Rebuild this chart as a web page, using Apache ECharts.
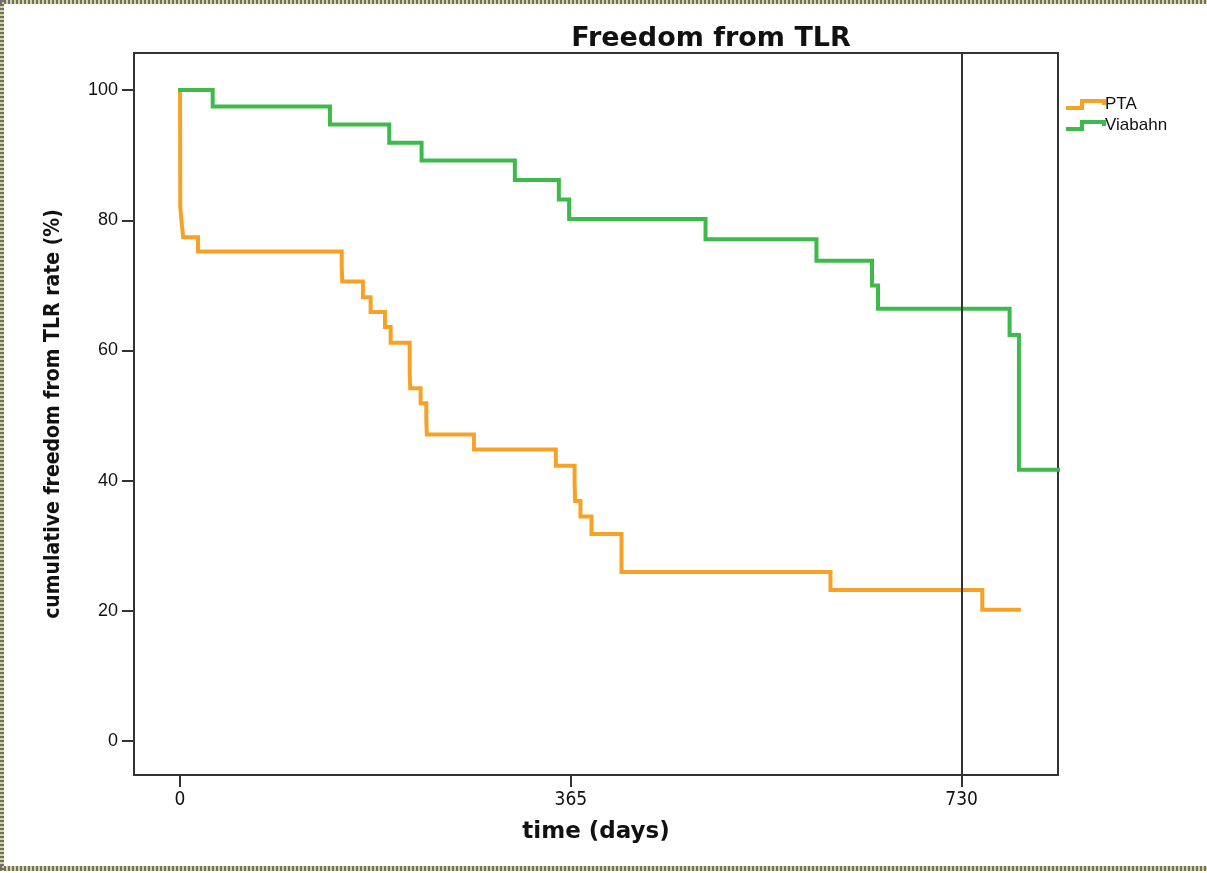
<!DOCTYPE html>
<html>
<head>
<meta charset="utf-8">
<script src="https://cdn.jsdelivr.net/npm/echarts@6/dist/echarts.min.js"></script>
<style>
  html, body { margin: 0; padding: 0; background: #fff; }
  #chart { width: 1207px; height: 873px; }
</style>
</head>
<body>
<div id="chart"></div>
<script>
// Kaplan-Meier steps (day, % free from TLR)
const ptaDays = [0, 0.2, 1.6, 2.9, 16.8, 151, 151.5, 170.8, 178, 191.4, 196.7, 214.5, 215, 224.7, 230, 230.5, 274.5, 351, 368.5, 369, 374, 384.3, 412.3, 607.5, 749.3, 783.5];
const ptaSurv = [100, 82.1, 79.5, 77.4, 75.2, 72.9, 70.6, 68.2, 65.9, 63.6, 61.2, 56.5, 54.2, 51.9, 49.5, 47.1, 44.8, 42.3, 39.6, 36.9, 34.5, 31.8, 26.0, 23.2, 20.2, 20.2];

const viaDays = [0, 30.5, 140, 195.4, 225.6, 312.7, 353.8, 363.4, 490.8, 594.4, 646.3, 651.9, 774.8, 783.5, 820];
const viaSurv = [100, 97.5, 94.7, 91.9, 89.2, 86.2, 83.2, 80.2, 77.1, 73.8, 70.0, 66.4, 62.4, 41.7, 41.7];

const xTicks = [0, 365, 730];
const yTicks = [0, 20, 40, 60, 80, 100];
const refDay = 730;

const pair = (xs, ys) => xs.map((x, i) => [x, ys[i]]);

const stepIcon = 'path://M0,7 L14,7 L14,0 L40,0 L40,6 L36,6 L36,4 L18,4 L18,11 L0,11 Z';
const narrow = '"Liberation Sans Narrow", "Arial Narrow", "DejaVu Sans Condensed", "Liberation Sans", sans-serif';
const arial = '"Liberation Sans", Arial, sans-serif';

const chart = echarts.init(document.getElementById('chart'));
chart.setOption({
  animation: false,
  backgroundColor: '#fff',
  title: {
    text: 'Freedom from TLR',
    left: 706,
    textAlign: 'center',
    top: 20,
    textStyle: { fontFamily: '"DejaVu Sans", sans-serif', fontWeight: 'bold', fontSize: 27, color: '#111' }
  },
  legend: {
    orient: 'vertical',
    left: 1061,
    top: 91,
    itemWidth: 40,
    itemHeight: 13,
    itemGap: 4,
    textStyle: { fontFamily: arial, fontSize: 17, color: '#111', padding: [0, 0, 0, -6] },
    data: [
      { name: 'PTA', icon: stepIcon },
      { name: 'Viabahn', icon: stepIcon }
    ]
  },
  grid: {
    left: 134, right: 149, top: 53, bottom: 98,
    outerBoundsMode: 'none',
    show: true,
    borderColor: '#333',
    borderWidth: 2
  },
  xAxis: {
    type: 'value',
    min: -43,
    max: 820,
    name: 'time (days)',
    nameLocation: 'middle',
    nameGap: 46,
    nameTextStyle: { fontFamily: '"DejaVu Sans", sans-serif', fontWeight: 'bold', fontSize: 23, color: '#111' },
    axisLine: { show: true, onZero: false, lineStyle: { color: '#333', width: 2 } },
    axisTick: { show: true, length: 12, customValues: xTicks, lineStyle: { color: '#333', width: 2 } },
    axisLabel: { customValues: xTicks, margin: 16, fontFamily: narrow, fontSize: 19, color: '#111' },
    splitLine: { show: false }
  },
  yAxis: {
    type: 'value',
    min: -5.2,
    max: 105.7,
    name: 'cumulative freedom from TLR rate (%)',
    nameLocation: 'middle',
    nameGap: 70,
    nameTextStyle: { fontFamily: narrow, fontWeight: 'bold', fontSize: 21, color: '#111' },
    axisLine: { show: true, onZero: false, lineStyle: { color: '#333', width: 2 } },
    axisTick: { show: true, length: 12, customValues: yTicks, lineStyle: { color: '#333', width: 2 } },
    axisLabel: { customValues: yTicks, margin: 16, fontFamily: arial, fontSize: 18, color: '#111' },
    splitLine: { show: false }
  },
  series: [
    {
      name: 'PTA',
      type: 'line',
      step: 'end',
      showSymbol: false,
      data: pair(ptaDays, ptaSurv),
      color: '#F7A126',
      lineStyle: { color: '#F7A126', width: 4, cap: 'square', join: 'miter' },
      markLine: {
        silent: true,
        symbol: 'none',
        label: { show: false },
        lineStyle: { color: '#333', width: 2, type: 'solid' },
        data: [{ xAxis: refDay }]
      }
    },
    {
      name: 'Viabahn',
      type: 'line',
      step: 'end',
      showSymbol: false,
      data: pair(viaDays, viaSurv),
      color: '#3DBA4A',
      lineStyle: { color: '#3DBA4A', width: 4, cap: 'square', join: 'miter' }
    }
  ],
  graphic: [
    // dotted frame of the original screenshot
    { type: 'rect', shape: { x: 0, y: 0, width: 1207, height: 4 }, style: { fill: '#d6d29a' }, silent: true },
    { type: 'rect', shape: { x: 0, y: 0, width: 4, height: 871 }, style: { fill: '#d6d29a' }, silent: true },
    { type: 'rect', shape: { x: 0, y: 866, width: 1207, height: 5 }, style: { fill: '#d6d29a' }, silent: true },
    { type: 'line', shape: { x1: 0, y1: 2, x2: 1207, y2: 2 }, style: { stroke: '#6f6f6f', lineWidth: 4, lineDash: [2, 2] }, silent: true },
    { type: 'line', shape: { x1: 2, y1: 0, x2: 2, y2: 871 }, style: { stroke: '#6f6f6f', lineWidth: 4, lineDash: [2, 2] }, silent: true },
    { type: 'line', shape: { x1: 0, y1: 868.5, x2: 1207, y2: 868.5 }, style: { stroke: '#6f6f6f', lineWidth: 5, lineDash: [2, 2] }, silent: true }
  ]
});
</script>
</body>
</html>
